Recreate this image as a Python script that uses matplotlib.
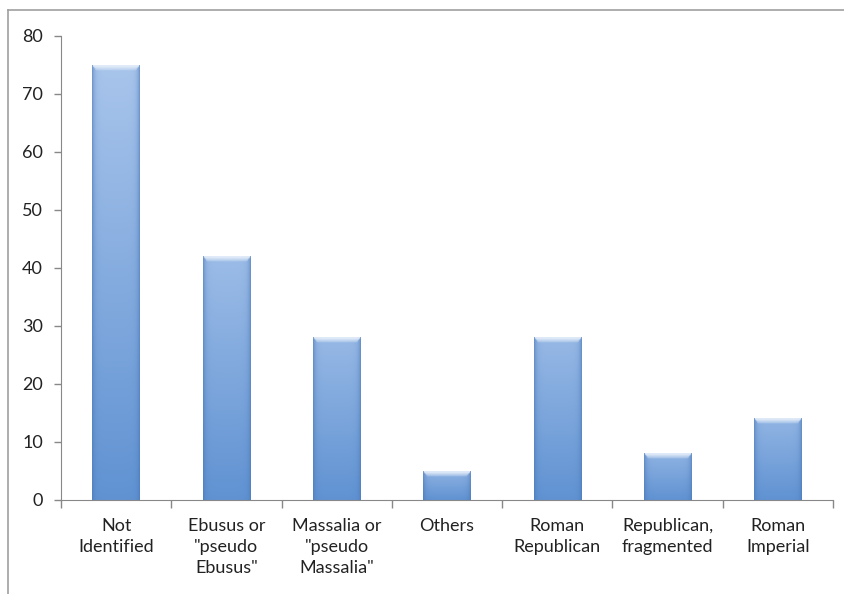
import numpy as np
import matplotlib
matplotlib.use("Agg")
from matplotlib import pyplot as plt
from matplotlib.lines import Line2D

categories = ["Not\nIdentified", "Ebusus or\n\"pseudo\nEbusus\"", "Massalia or\n\"pseudo\nMassalia\"",
              "Others", "Roman\nRepublican", "Republican,\nfragmented", "Roman\nImperial"]
counts = [75, 42, 28, 5, 28, 8, 14]
yticks = [0, 10, 20, 30, 40, 50, 60, 70, 80]

plt.rcParams['font.family'] = ['Lato', 'DejaVu Sans']

top_col = np.array([170, 198, 236]) / 255.0
bot_col = np.array([96, 146, 210]) / 255.0
edge_col = np.array([72, 118, 180]) / 255.0
bevel_col = np.array([232, 240, 250]) / 255.0


def bar_image(h, nx=60):
    # vertical gradient, darker sides, light bevel along the top
    ny = max(int(h * 12), 10)
    y = np.linspace(0, h, ny)[:, None]
    s = np.linspace(0, 1, nx)[None, :]
    t = y / 80.0
    t = np.clip(t / max(h / 80.0, 1e-6), 0, 1) * 0.6 + t * 0.4
    img = bot_col + (top_col - bot_col) * t[..., None]
    img = np.broadcast_to(img, (ny, nx, 3)).copy()
    side = np.exp(-s / 0.05) + np.exp(-(1 - s) / 0.05)
    side = np.clip(side, 0, 1)[..., None]
    img = img * (1 - side * 0.6) + edge_col * side * 0.6
    depth = (h - y) / 0.9
    dist = np.minimum(s, 1 - s) / 0.08
    bevel = (depth < 1) & (dist > depth)
    w = np.clip(1.2 - depth, 0, 1)[..., None] * bevel[..., None]
    img = img * (1 - w * 0.9) + bevel_col * w * 0.9
    return img[::-1]


fig = plt.figure(figsize=(8.45, 5.94), dpi=100)
ax = fig.add_axes([61 / 845, 94 / 594, 772 / 845, 464 / 594])

x = np.arange(len(counts))
width = 0.43
bars = ax.bar(x, counts, width=width, color="none", edgecolor="none")
for b, v in zip(bars, counts):
    x0 = b.get_x()
    ax.imshow(bar_image(v), extent=[x0, x0 + width, 0, v], aspect="auto",
              interpolation="bilinear", zorder=2)

ax.set_xlim(-0.5, len(counts) - 0.5)
ax.set_ylim(0, 80)
ax.set_yticks(yticks)
ax.set_yticklabels([str(v) for v in yticks], fontsize=13, color="#222222")
ax.set_xticks(np.arange(len(counts) + 1) - 0.5)
ax.set_xticklabels([])
ax.set_xticks(x, minor=True)
ax.set_xticklabels(categories, minor=True, fontsize=13, color="#222222", linespacing=1.4,
                   va="top", ha="center")
ax.tick_params(axis="x", which="minor", length=0, pad=13)
ax.tick_params(axis="x", which="major", length=6, color="#888888", width=1)
ax.tick_params(axis="y", length=5, color="#888888", width=1, pad=8)

for side in ["top", "right"]:
    ax.spines[side].set_visible(False)
for side in ["left", "bottom"]:
    ax.spines[side].set_color("#888888")

# outer chart frame
fig.add_artist(Line2D([8 / 845, 1.0], [1 - 10 / 594, 1 - 10 / 594], color="#a0a0a0", lw=1.2))
fig.add_artist(Line2D([8 / 845, 8 / 845], [0, 1 - 10 / 594], color="#a0a0a0", lw=1.2))

fig.savefig("out.png", dpi=100)
